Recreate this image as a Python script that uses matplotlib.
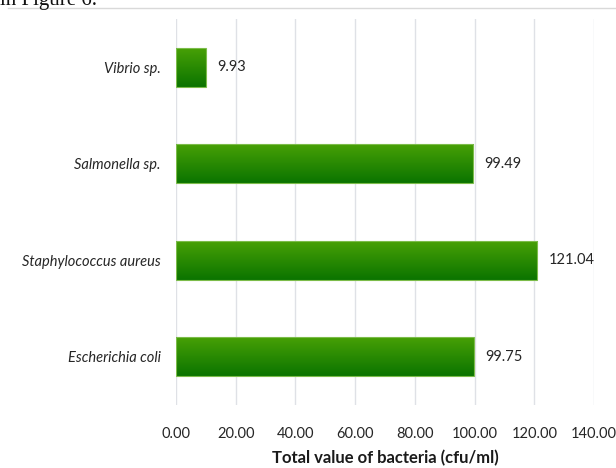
import numpy as np
import matplotlib
matplotlib.use('Agg')
import matplotlib.pyplot as plt
from matplotlib.colors import LinearSegmentedColormap
from matplotlib.lines import Line2D

# Bacteria counts (cfu/ml), bottom to top
bacteria = ['Escherichia coli', 'Staphylococcus aureus', 'Salmonella sp.', 'Vibrio sp.']
counts = [99.75, 121.04, 99.49, 9.93]
xticks = [0, 20, 40, 60, 80, 100, 120, 140]

plt.rcParams['font.family'] = ['Lato', 'DejaVu Sans']

fig = plt.figure(figsize=(6.16, 4.68), dpi=100)
ax = fig.add_axes([0.2857, 0.1346, 0.6786, 0.8248])

green = LinearSegmentedColormap.from_list('bar_green', ['#47a006', '#0b7400'])
gradient = np.linspace(0, 1, 64).reshape(-1, 1)
bar_h = 0.4

ypos = np.arange(len(bacteria))
for y, val in zip(ypos, counts):
    ax.imshow(gradient, cmap=green, aspect='auto', origin='upper',
              extent=[0, val, y - bar_h / 2, y + bar_h / 2], zorder=2)
    ax.barh(y, val, height=bar_h, color='none', edgecolor='#7cbc4a', lw=0.8, zorder=3)
    ax.annotate('%.2f' % val, xy=(val, y), xytext=(8, 0), textcoords='offset points',
                va='center', ha='left', fontsize=10.5, color='#262626')

ax.set_xlim(0, 140)
ax.set_ylim(-0.5, len(bacteria) - 0.5)
ax.set_xticks(xticks)
ax.set_xticklabels(['%.2f' % t for t in xticks], fontsize=10.5, color='#262626')
ax.set_yticks(ypos)
ax.set_yticklabels(bacteria, fontsize=10.5, style='italic', color='#262626')
ax.tick_params(length=0)
ax.tick_params(axis='x', pad=16)
ax.tick_params(axis='y', pad=11)
ax.grid(axis='x', color='#dfe1e6', lw=1.0, zorder=0)
ax.set_axisbelow(True)
for s in ax.spines.values():
    s.set_visible(False)

ax.set_xlabel('Total value of bacteria (cfu/ml)', fontsize=12, fontweight='bold',
              color='#1a1a1a', labelpad=6)

# caption fragment and chart frame edge at the top
fig.text(0.0, 1.0, 'in Figure 6.', fontsize=15, family='Liberation Serif',
         va='center', ha='left', color='#111111')
fig.add_artist(Line2D([0.013, 1.0], [0.983, 0.983], color='#d9d9d9', lw=1.0))

fig.savefig('out.png', dpi=100)
